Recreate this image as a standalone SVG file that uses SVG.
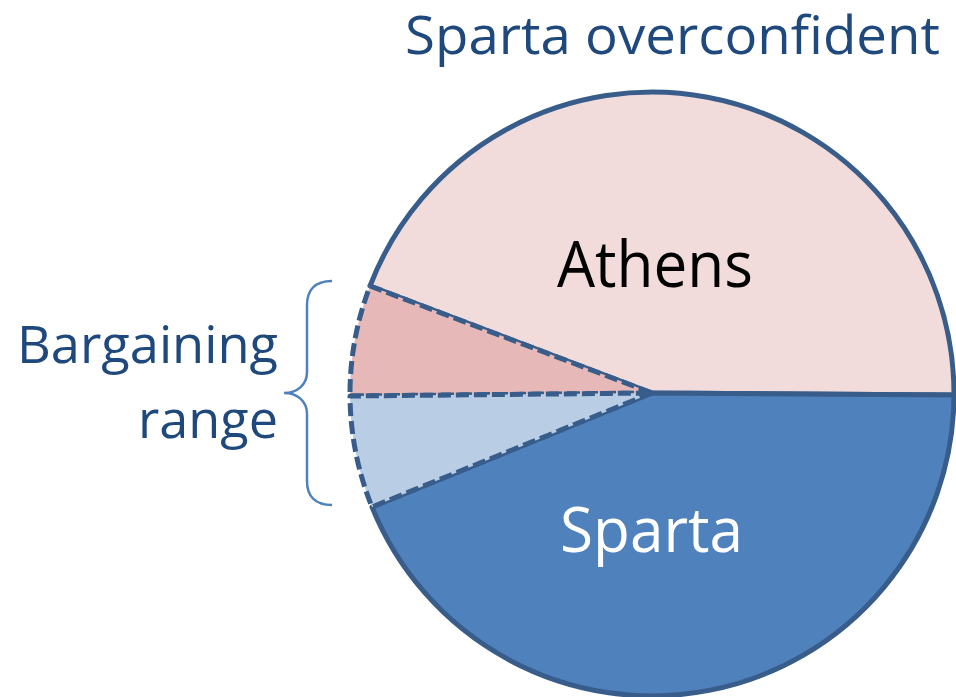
<svg xmlns="http://www.w3.org/2000/svg" width="956" height="697" viewBox="0 0 956 697">
<style>
.wedge{stroke:#385D8A;stroke-width:5;stroke-linejoin:round}
.dash{stroke-dasharray:13 5}
.lbl{font-family:"Open Sans","Liberation Sans",sans-serif}
.blue{fill:#1F497D}
</style>
<rect width="956" height="697" fill="#ffffff"/>
<g id="athens">
<path class="wedge" fill="#F2DCDB" d="M652,393 L370,286 A302,302 0 0 1 954,395 Z"/>
</g>
<g id="sparta">
<path class="wedge" fill="#4F81BD" d="M652,393 L954,395 A302,302 0 0 1 372,507 Z"/>
</g>
<g id="range-athens">
<path class="wedge dash" fill="#E6B9B8" d="M652,393 L350,396 A302,302 0 0 1 370,286 Z"/>
</g>
<g id="range-sparta">
<path class="wedge dash" fill="#B9CDE5" d="M652,393 L372,507 A302,302 0 0 1 350,396 Z"/>
</g>
<g id="labels">
<text class="lbl" x="557" y="287" font-size="64" fill="#000000" textLength="196" lengthAdjust="spacingAndGlyphs">Athens</text>
<text class="lbl" x="560" y="552" font-size="63" fill="#ffffff" textLength="183" lengthAdjust="spacingAndGlyphs">Sparta</text>
<text class="lbl blue" x="405" y="54" font-size="53" textLength="535" lengthAdjust="spacingAndGlyphs">Sparta overconfident</text>
</g>
<g id="bargaining-range">
<path d="M332,281 C315,281 307,290 307,305 L307,372 C307,385 297,393 284,393 C297,393 307,401 307,414 L307,481 C307,496 315,505 332,505" fill="none" stroke="#4F81BD" stroke-width="2.5"/>
<text class="lbl blue" x="17" y="363" font-size="51" textLength="261" lengthAdjust="spacingAndGlyphs">Bargaining</text>
<text class="lbl blue" x="138" y="438" font-size="51" textLength="140" lengthAdjust="spacingAndGlyphs">range</text>
</g>
</svg>
